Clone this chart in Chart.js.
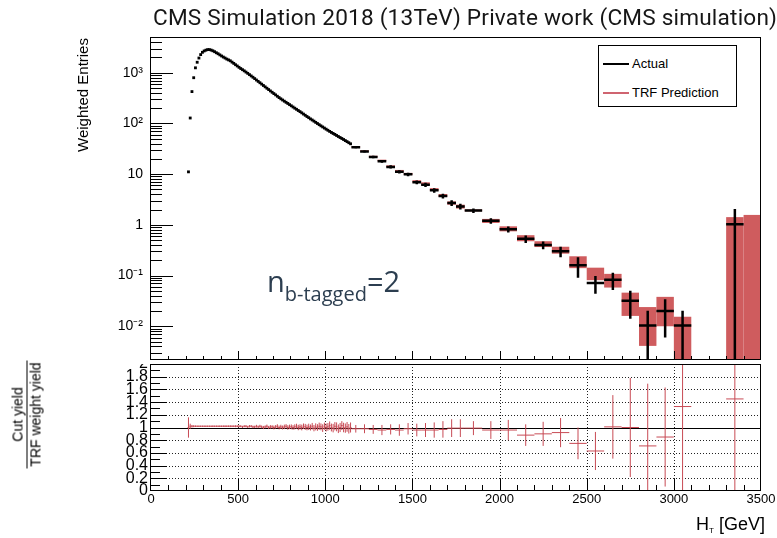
<!DOCTYPE html>
<html>
<head>
<meta charset="utf-8">
<script src="https://cdn.jsdelivr.net/npm/chart.js@4.4.1/dist/chart.umd.min.js"></script>
<style>
  body { margin: 0; background: #fff; }
  #wrap { position: relative; width: 777px; height: 538px; overflow: hidden; font-family: "Liberation Sans", Arial, sans-serif; }
  canvas { position: absolute; left: 0; }
  #title { position: absolute; left: 153px; top: 4px; font: 22.6px Roboto, sans-serif; letter-spacing: 0.2px; color: #161616; white-space: nowrap; }
  #ytitle { position: absolute; left: 23px; top: 86px; width: 120px; height: 18px; line-height: 18px; text-align: center;
            font-size: 15px; color: #000; transform: rotate(-90deg); white-space: nowrap; }
  #rtitle { position: absolute; left: -27px; top: 397px; width: 108px; height: 35px; transform: rotate(-90deg);
            font-size: 14px; color: #000; text-align: center; white-space: nowrap; }
  #rtitle div { height: 17px; line-height: 17px; }
  #rtitle .num { border-bottom: 1px solid #000; }
  #xtitle { position: absolute; left: 696px; top: 515px; font-size: 18px; line-height: 18px; color: #000; white-space: nowrap; }
  #xtitle sub { font-size: 8px; vertical-align: -3px; }
  #legend { position: absolute; left: 598px; top: 45px; width: 137px; height: 60px; border: 1px solid #000; background: #fff; }
  #legend .row { position: absolute; left: 0; height: 18px; line-height: 18px; font-size: 13px; color: #000; white-space: nowrap; }
  #legend .ln { position: absolute; left: 4px; top: 8px; width: 26px; height: 2px; }
  #legend .tx { position: absolute; left: 33px; top: 0; }
  #nb { position: absolute; left: 267px; top: 266px; font-family: "Open Sans", sans-serif; color: #2c3e50; white-space: nowrap; line-height: 29px; }
  #nb .big { font-size: 29px; }
  #nb sub { font-size: 20px; vertical-align: -9px; }
</style>
</head>
<body>
<div id="wrap">
  <canvas id="topChart" width="777" height="364" style="top:0"></canvas>
  <canvas id="ratioChart" width="777" height="174" style="top:364px"></canvas>
  <div id="title">CMS Simulation 2018 (13TeV) Private work (CMS simulation)</div>
  <div id="ytitle">Weighted Entries</div>
  <div id="rtitle"><div class="num">Cut yield</div><div>TRF weight yield</div></div>
  <div id="xtitle">H<sub>T</sub> [GeV]</div>
  <div id="legend">
    <div class="row" style="top:9px"><span class="ln" style="background:#000"></span><span class="tx">Actual</span></div>
    <div class="row" style="top:38px"><span class="ln" style="background:#cf6470"></span><span class="tx">TRF Prediction</span></div>
  </div>
  <div id="nb"><span class="big">n</span><sub>b-tagged</sub><span class="big">=2</span></div>
</div>
<script>
// histogram binning: [first edge, last edge, bin width]
const binSegments = [[210, 1150, 10], [1150, 1800, 50], [1800, 3500, 100]];
const wideOffset = 94; // bins from here on are drawn with width bars and boxes

// Actual (cut) yield per bin
const actual = [
  11.1, 128, 425, 798, 1250, 1610, 1950, 2280, 2530, 2690,
  2790, 2860, 2860, 2800, 2710, 2600, 2480, 2370, 2250, 2140,
  2040, 1950, 1860, 1790, 1720, 1620, 1530, 1440, 1360, 1280,
  1210, 1150, 1090, 1030, 973, 918, 865, 815, 766, 719,
  676, 635, 597, 561, 527, 495, 466, 438, 412, 388,
  366, 344, 324, 306, 290, 275, 261, 248, 235, 223,
  211, 200, 190, 180, 171, 162, 153, 145, 137, 130,
  123, 117, 111, 105, 99.8, 94.6, 89.7, 85.3, 81.1, 77.1,
  73.3, 69.7, 66.5, 63.5, 60.7, 57.9, 55.3, 52.8, 50.5, 48.2,
  45.9, 43.8, 41.7, 39.7,
  34.0, 28.0, 21.8, 17.9, 13.9, 11.1, 9.9, 6.9, 6.2, 4.8, 3.7, 2.7, 2.3,
  1.91, 1.20, 0.82, 0.53, 0.40, 0.30, 0.16, 0.071, 0.083, 0.032, 0.0103, 0.020, 0.0103, null, null, 1.03, null
];
// errors on actual, TRF prediction and its error, for the wide bins only
const actualErrWide = [
  1.5, 1.4, 1.2, 1.1, 1.0, 0.85, 0.8, 0.6, 0.6, 0.5, 0.4, 0.35, 0.3,
  0.2, 0.15, 0.11, 0.09, 0.07, 0.07, 0.07, 0.027, 0.031, 0.018, 0.0100, 0.014, 0.0100, null, null, 1.03, null
];
const predWide = [
  34.3, 28.6, 22.2, 18.6, 14.3, 11.6, 10.1, 7.2, 6.5, 5.0, 3.8, 2.7, 2.3,
  1.93, 1.20, 0.84, 0.55, 0.42, 0.32, 0.19, 0.112, 0.083, 0.031, 0.014, 0.024, 0.0077, null, null, 0.71, 0.785
];
const predErrWide = [
  1.0, 0.9, 0.8, 0.7, 0.6, 0.5, 0.5, 0.4, 0.4, 0.3, 0.25, 0.2, 0.2,
  0.08, 0.11, 0.095, 0.075, 0.055, 0.05, 0.05, 0.031, 0.025, 0.015, 0.0099, 0.014, 0.0077, null, null, 0.71, 0.785
];
// Cut yield / TRF weight yield
const ratio = [
  1.00, 1.02, 1.02, 1.02, 1.02, 1.02, 1.02, 1.02, 1.02, 1.02,
  1.02, 1.02, 1.02, 1.02, 1.02, 1.02, 1.02, 1.02, 1.02, 1.02,
  1.02, 1.02, 1.02, 1.02, 1.02, 1.02, 1.02, 1.02, 1.02, 1.02,
  1.02, 1.01, 1.02, 1.02, 1.01, 1.02, 1.02, 1.01, 1.01, 1.02,
  1.01, 1.02, 1.01, 1.00, 1.01, 1.02, 1.00, 1.01, 1.01, 1.00,
  1.01, 1.02, 1.00, 1.01, 1.00, 1.01, 1.02, 1.00, 1.01, 1.01,
  1.00, 1.01, 1.02, 1.00, 1.01, 1.00, 1.02, 1.01, 1.00, 1.01,
  1.00, 1.02, 0.99, 1.01, 1.00, 1.02, 1.01, 0.99, 1.02, 1.00,
  1.01, 1.03, 1.00, 0.99, 1.02, 1.01, 0.98, 1.00, 1.03, 1.00,
  0.99, 1.01, 0.98, 1.00,
  0.98, 0.98, 0.97, 0.96, 0.97, 0.96, 0.98, 0.96, 0.96, 0.96, 0.97, 0.99, 0.99,
  0.99, 0.96, 0.96, 0.88, 0.90, 0.92, 0.75, 0.63, 1.01, 1.00, 0.71, 0.85, 1.33, null, null, 1.45, null
];
const ratioErr = [
  0.16, 0.04, 0.02, 0.015, 0.012, 0.01, 0.01, 0.01, 0.01, 0.01,
  0.01, 0.01, 0.01, 0.01, 0.012, 0.01, 0.011, 0.01, 0.012, 0.011,
  0.012, 0.013, 0.012, 0.012, 0.014, 0.013, 0.013, 0.015, 0.014, 0.016,
  0.015, 0.017, 0.016, 0.018, 0.017, 0.019, 0.018, 0.02, 0.019, 0.022,
  0.02, 0.023, 0.022, 0.025, 0.023, 0.026, 0.025, 0.028, 0.026, 0.03,
  0.028, 0.031, 0.03, 0.033, 0.031, 0.035, 0.033, 0.036, 0.035, 0.038,
  0.037, 0.04, 0.039, 0.043, 0.041, 0.045, 0.043, 0.047, 0.045, 0.05,
  0.047, 0.052, 0.05, 0.055, 0.052, 0.057, 0.054, 0.06, 0.057, 0.062,
  0.06, 0.065, 0.062, 0.067, 0.065, 0.07, 0.068, 0.072, 0.07, 0.075,
  0.073, 0.077, 0.075, 0.079,
  0.06, 0.07, 0.07, 0.08, 0.08, 0.09, 0.09, 0.10, 0.11, 0.12, 0.13, 0.14, 0.14,
  0.11, 0.14, 0.16, 0.17, 0.19, 0.23, 0.25, 0.30, 0.50, 0.78, 0.98, 0.78, 1.40, null, null, 1.45, null
];

// axis ticks
const yTopTicks = [0.01, 0.1, 1, 10, 100, 1000];
const yTopLabels = ['10\u207B\u00B2', '10\u207B\u00B9', '1', '10', '10\u00B2', '10\u00B3'];
const yRatioTicks = [0, 0.2, 0.4, 0.6, 0.8, 1, 1.2, 1.4, 1.6, 1.8, 2];
const yRatioLabels = ['0', '0.2', '0.4', '0.6', '0.8', '1', '1.2', '1.4', '1.6', '1.8', '2'];
const xTicks = [0, 500, 1000, 1500, 2000, 2500, 3000, 3500];

const yTopMin = 0.00216, yTopMax = 5070;
const predColor = 'rgb(207,92,94)';
const ratioColor = 'rgb(200,75,85)';

// bin edges
const binLo = [], binHi = [];
binSegments.forEach(([a, b, w]) => {
  for (let e = a; e < b - 1e-9; e += w) { binLo.push(e); binHi.push(e + w); }
});

// list of [x1,y1,x2,y2] -> line points broken by nulls
function segs(list) {
  const pts = [];
  list.forEach(s => { pts.push({x: s[0], y: s[1]}, {x: s[2], y: s[3]}, {x: s[2], y: null}); });
  return pts;
}

const finePts = [], wideH = [], wideV = [];
actual.forEach((v, i) => {
  if (v == null) return;
  const c = (binLo[i] + binHi[i]) / 2;
  if (i < wideOffset) { finePts.push({x: c, y: v}); return; }
  wideH.push([binLo[i], v, binHi[i], v]);
  const e = actualErrWide[i - wideOffset];
  wideV.push([c, Math.max(v - e, yTopMin), c, v + e]);
});

const ratioH = [], ratioV = [];
ratio.forEach((r, i) => {
  if (r == null) return;
  const c = (binLo[i] + binHi[i]) / 2;
  ratioH.push([binLo[i], r, binHi[i], r]);
  ratioV.push([c, Math.max(r - ratioErr[i], 0), c, Math.min(r + ratioErr[i], 2)]);
});

const predBoxes = {
  id: 'predBoxes',
  beforeDatasetsDraw(chart) {
    const {ctx, chartArea: ca, scales: {x, y}} = chart;
    ctx.save();
    ctx.beginPath(); ctx.rect(ca.left, ca.top, ca.right - ca.left, ca.bottom - ca.top); ctx.clip();
    ctx.fillStyle = predColor;
    predWide.forEach((p, k) => {
      if (p == null) return;
      const i = k + wideOffset;
      const e = predErrWide[k];
      const x1 = x.getPixelForValue(binLo[i]), x2 = x.getPixelForValue(binHi[i]);
      const y1 = y.getPixelForValue(p + e), y2 = y.getPixelForValue(Math.max(p - e, yTopMin));
      ctx.fillRect(x1, y1, x2 - x1, y2 - y1);
    });
    ctx.restore();
  }
};

function drawFrame(ctx, ca) {
  ctx.strokeStyle = '#000';
  ctx.lineWidth = 1;
  ctx.strokeRect(ca.left - 0.5, ca.top + 0.5, ca.right - ca.left, ca.bottom - ca.top - 1);
}

const topFrame = {
  id: 'topFrame',
  afterDatasetsDraw(chart) {
    const {ctx, chartArea: ca, scales: {x, y}} = chart;
    ctx.save();
    drawFrame(ctx, ca);
    ctx.beginPath();
    for (let d = -3; d <= 3; d++) {
      for (let m = 1; m <= 9; m++) {
        const v = m * Math.pow(10, d);
        if (v < yTopMin || v > yTopMax) continue;
        const py = Math.round(y.getPixelForValue(v)) + 0.5;
        ctx.moveTo(ca.left, py); ctx.lineTo(ca.left + (m === 1 ? 22 : 11), py);
      }
    }
    for (let v = 100; v < 3500; v += 100) {
      const px = Math.round(x.getPixelForValue(v)) + 0.5;
      ctx.moveTo(px, ca.bottom); ctx.lineTo(px, ca.bottom - (v % 500 === 0 ? 9 : 4));
    }
    ctx.stroke();
    ctx.restore();
  }
};

const ratioFrame = {
  id: 'ratioFrame',
  beforeDatasetsDraw(chart) {
    const {ctx, chartArea: ca, scales: {x, y}} = chart;
    ctx.save();
    ctx.strokeStyle = '#222';
    ctx.lineWidth = 1;
    ctx.setLineDash([1, 2]);
    ctx.beginPath();
    yRatioTicks.forEach(v => {
      if (v === 0 || v === 1 || v === 2) return;
      const py = Math.round(y.getPixelForValue(v)) + 0.5;
      ctx.moveTo(ca.left, py); ctx.lineTo(ca.right, py);
    });
    xTicks.forEach(v => {
      if (v === 0 || v === 3500) return;
      const px = Math.round(x.getPixelForValue(v)) + 0.5;
      ctx.moveTo(px, ca.top); ctx.lineTo(px, ca.bottom);
    });
    ctx.stroke();
    ctx.setLineDash([]);
    ctx.strokeStyle = '#000';
    ctx.beginPath();
    const p1 = Math.round(y.getPixelForValue(1)) + 0.5;
    ctx.moveTo(ca.left, p1); ctx.lineTo(ca.right, p1);
    ctx.stroke();
    ctx.restore();
  },
  afterDatasetsDraw(chart) {
    const {ctx, chartArea: ca, scales: {x, y}} = chart;
    ctx.save();
    drawFrame(ctx, ca);
    ctx.beginPath();
    for (let k = 1; k < 20; k++) {
      const py = Math.round(y.getPixelForValue(k / 10)) + 0.5;
      ctx.moveTo(ca.left, py); ctx.lineTo(ca.left + (k % 2 === 0 ? 16 : 9), py);
    }
    for (let v = 100; v < 3500; v += 100) {
      const px = Math.round(x.getPixelForValue(v)) + 0.5;
      ctx.moveTo(px, ca.bottom); ctx.lineTo(px, ca.bottom - (v % 500 === 0 ? 12 : 6));
    }
    ctx.stroke();
    ctx.restore();
  }
};

function lineSet(points, color, width) {
  return { data: segs(points), borderColor: color, borderWidth: width, pointRadius: 0, spanGaps: false, fill: false };
}

const common = {
  responsive: false, animation: false, devicePixelRatio: 1, events: [],
  plugins: { legend: { display: false }, tooltip: { enabled: false } }
};

new Chart(document.getElementById('topChart'), {
  type: 'line',
  data: {
    datasets: [
      { data: finePts, showLine: false, pointStyle: 'rect', pointRadius: 2, pointBorderWidth: 0,
        pointBackgroundColor: '#000', borderColor: '#000' },
      lineSet(wideV, '#000', 2.5),
      lineSet(wideH, '#000', 2.5)
    ]
  },
  options: {
    ...common,
    layout: { padding: { top: 37, right: 16, bottom: 1, left: 0 } },
    scales: {
      x: { type: 'linear', min: 0, max: 3500, display: false },
      y: {
        type: 'logarithmic', min: yTopMin, max: yTopMax,
        afterBuildTicks: s => { s.ticks = yTopTicks.map(v => ({ value: v })); },
        afterFit: s => { s.width = 151; s.paddingTop = 0; s.paddingBottom = 0; },
        ticks: { callback: (v, i) => yTopLabels[i], autoSkip: false, padding: 8, color: '#000',
                 font: { family: 'Liberation Sans', size: 14 } },
        grid: { display: false, drawTicks: false },
        border: { display: false }
      }
    }
  },
  plugins: [predBoxes, topFrame]
});

new Chart(document.getElementById('ratioChart'), {
  type: 'line',
  data: {
    datasets: [
      lineSet(ratioV, ratioColor, 1),
      lineSet(ratioH, ratioColor, 1)
    ]
  },
  options: {
    ...common,
    layout: { padding: { top: 0, right: 16, bottom: 0, left: 0 } },
    scales: {
      x: {
        type: 'linear', min: 0, max: 3500,
        afterBuildTicks: s => { s.ticks = xTicks.map(v => ({ value: v })); },
        afterFit: s => { s.height = 47; s.paddingLeft = 0; s.paddingRight = 0; },
        ticks: { autoSkip: false, maxRotation: 0, padding: 1, color: '#000', callback: v => String(v),
                 font: { family: 'Liberation Sans', size: 13 } },
        grid: { display: false, drawTicks: false },
        border: { display: false }
      },
      y: {
        type: 'linear', min: 0, max: 2,
        afterBuildTicks: s => { s.ticks = yRatioTicks.map(v => ({ value: v })); },
        afterFit: s => { s.width = 151; s.paddingTop = 0; s.paddingBottom = 0; },
        ticks: { callback: (v, i) => yRatioLabels[i], autoSkip: false, padding: 3, color: '#000',
                 font: { family: 'Liberation Sans', size: 16 } },
        grid: { display: false, drawTicks: false },
        border: { display: false }
      }
    }
  },
  plugins: [ratioFrame]
});
</script>
</body>
</html>
